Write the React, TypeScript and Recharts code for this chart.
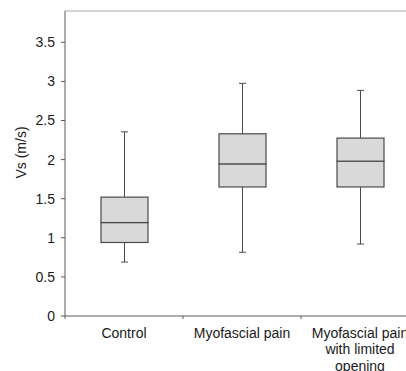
import React from 'react';
import { BarChart, Bar, XAxis, YAxis, ReferenceLine } from 'recharts';

const categories = ['Control', 'Myofascial pain', 'Myofascial pain with limited opening'];
const categoryLabelLines = [['Control'], ['Myofascial pain'], ['Myofascial pain', 'with limited', 'opening']];
const minValues = [0.69, 0.815, 0.92];
const q1Values = [0.94, 1.65, 1.65];
const medianValues = [1.195, 1.945, 1.98];
const q3Values = [1.52, 2.33, 2.275];
const maxValues = [2.355, 2.975, 2.885];
const yTicks = [0, 0.5, 1, 1.5, 2, 2.5, 3, 3.5];
const yDomainMax = 3.9;
const yLabel = 'Vs (m/s)';

const data = categories.map((name, i) => ({
  name,
  base: minValues[i],
  lowerWhisker: q1Values[i] - minValues[i],
  lowerBox: medianValues[i] - q1Values[i],
  upperBox: q3Values[i] - medianValues[i],
  upperWhisker: maxValues[i] - q3Values[i],
}));

const CHART_W = 440;
const CHART_H = 371;
const MARGIN = { top: 11, right: 21, bottom: 0, left: 0 };
const Y_AXIS_W = 65;
const PLOT_W = CHART_W - MARGIN.left - MARGIN.right - Y_AXIS_W;
const HALF_BAND = PLOT_W / categories.length / 2;
const FONT = '"Liberation Sans", Arial, sans-serif';
const STROKE = '#4a4a4a';
const AXIS = '#5a5a5a';
const TEXT = '#1a1a1a';
const CAP = 3.5;

const BoxShape = (p: any) => (
  <rect x={p.x} y={p.y} width={p.width} height={p.height} fill="#d9d9d9" stroke={STROKE} strokeWidth={1.2} />
);

const LowerWhisker = (p: any) => {
  const cx = p.x + p.width / 2;
  const yb = p.y + p.height;
  return (
    <g>
      <line x1={cx} x2={cx} y1={p.y} y2={yb} stroke={STROKE} strokeWidth={1} />
      <line x1={cx - CAP} x2={cx + CAP} y1={yb} y2={yb} stroke={STROKE} strokeWidth={1} />
    </g>
  );
};

const UpperWhisker = (p: any) => {
  const cx = p.x + p.width / 2;
  const yb = p.y + p.height;
  return (
    <g>
      <line x1={cx} x2={cx} y1={p.y} y2={yb} stroke={STROKE} strokeWidth={1} />
      <line x1={cx - CAP} x2={cx + CAP} y1={p.y} y2={p.y} stroke={STROKE} strokeWidth={1} />
    </g>
  );
};

const Empty = () => <g />;

const XTick = (props: any) => {
  const { x, y, index, payload } = props;
  const lines = categoryLabelLines[index] ?? [String(payload?.value ?? '')];
  const bx = x - HALF_BAND;
  return (
    <g>
      <line x1={bx} x2={bx} y1={y} y2={y + 3} stroke={AXIS} strokeWidth={1} />
      <text x={x} y={y} textAnchor="middle" fill={TEXT} fontSize={14} fontFamily={FONT}>
        {lines.map((l: string, i: number) => (
          <tspan key={i} x={x} dy={i === 0 ? 22 : 16.3}>
            {l}
          </tspan>
        ))}
      </text>
    </g>
  );
};

const YLabel = (props: any) => {
  const vb = props.viewBox || { x: 0, y: 11, width: 65, height: 305 };
  const cx = vb.x + 21;
  const cy = vb.y + vb.height / 2 - 11;
  return (
    <text
      x={cx}
      y={cy}
      transform={`rotate(-90, ${cx}, ${cy})`}
      textAnchor="middle"
      dominantBaseline="central"
      fill={TEXT}
      fontSize={14}
      fontFamily={FONT}
    >
      {yLabel}
    </text>
  );
};

export default function App() {
  return (
    <div style={{ position: 'absolute', left: 0, top: 0, width: 406, height: 371, overflow: 'hidden', background: '#fff' }}>
      <BarChart width={CHART_W} height={CHART_H} data={data} margin={MARGIN} barSize={47}>
        <ReferenceLine y={yDomainMax} stroke="#a8a8a8" strokeWidth={1} />
        <XAxis
          dataKey="name"
          height={55}
          axisLine={{ stroke: AXIS, strokeWidth: 1 }}
          tickLine={false}
          tickSize={0}
          tickMargin={0}
          interval={0}
          tick={<XTick />}
        />
        <YAxis
          type="number"
          domain={[0, yDomainMax]}
          ticks={yTicks}
          width={Y_AXIS_W}
          tickSize={4}
          tickMargin={6}
          axisLine={{ stroke: AXIS, strokeWidth: 1 }}
          tickLine={{ stroke: AXIS, strokeWidth: 1 }}
          tick={{ fill: TEXT, fontSize: 14, fontFamily: FONT }}
          label={<YLabel />}
        />
        <Bar dataKey="base" stackId="a" shape={<Empty />} isAnimationActive={false} />
        <Bar dataKey="lowerWhisker" stackId="a" shape={<LowerWhisker />} isAnimationActive={false} />
        <Bar dataKey="lowerBox" stackId="a" shape={<BoxShape />} isAnimationActive={false} />
        <Bar dataKey="upperBox" stackId="a" shape={<BoxShape />} isAnimationActive={false} />
        <Bar dataKey="upperWhisker" stackId="a" shape={<UpperWhisker />} isAnimationActive={false} />
      </BarChart>
    </div>
  );
}
